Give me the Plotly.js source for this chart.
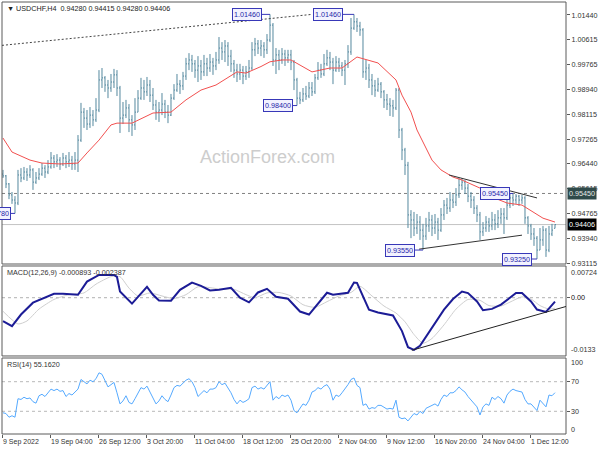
<!DOCTYPE html>
<html><head><meta charset="utf-8">
<script src="https://cdn.plot.ly/plotly-3.0.1.min.js"></script>
<style>html,body{margin:0;padding:0;background:#fff}#chart{width:600px;height:450px}</style>
</head><body><div id="chart"></div>
<script>
// USDCHF H4 price bars (one bar per plotted slot), left to right
const openP = [0.9610,0.9604,0.9577,0.9540,0.9523,0.9513,0.9607,0.9597,0.9617,0.9607,
0.9624,0.9583,0.9597,0.9610,0.9630,0.9617,0.9634,0.9664,0.9651,0.9657,
0.9644,0.9664,0.9651,0.9657,0.9644,0.9657,0.9724,0.9818,0.9798,0.9778,
0.9808,0.9792,0.9825,0.9926,0.9933,0.9909,0.9899,0.9919,0.9943,0.9899,
0.9798,0.9808,0.9832,0.9792,0.9775,0.9818,0.9865,0.9899,0.9886,0.9909,
0.9875,0.9842,0.9818,0.9825,0.9845,0.9818,0.9808,0.9865,0.9892,0.9912,
0.9906,0.9939,0.9980,0.9993,0.9980,0.9959,0.9973,0.9953,0.9980,0.9966,
0.9986,0.9973,0.9993,1.0033,1.0020,1.0040,1.0006,0.9980,0.9959,0.9946,
0.9959,0.9939,0.9953,0.9966,1.0027,1.0047,1.0033,1.0040,1.0027,1.0060,
1.0110,0.9993,1.0010,0.9993,1.0013,1.0000,1.0010,0.9986,0.9926,0.9865,
0.9859,0.9879,0.9872,0.9899,0.9886,0.9933,0.9959,0.9946,0.9980,1.0000,
0.9986,0.9959,0.9986,0.9973,0.9959,0.9980,1.0020,1.0100,1.0121,1.0107,
1.0094,0.9953,0.9966,0.9926,0.9906,0.9892,0.9912,0.9886,0.9859,0.9845,
0.9839,0.9832,0.9892,0.9758,0.9691,0.9640,0.9473,0.9456,0.9429,0.9449,
0.9422,0.9402,0.9436,0.9456,0.9429,0.9449,0.9422,0.9473,0.9506,0.9496,
0.9523,0.9516,0.9540,0.9573,0.9583,0.9563,0.9536,0.9523,0.9496,0.9473,
0.9416,0.9429,0.9449,0.9436,0.9456,0.9443,0.9463,0.9476,0.9463,0.9506,
0.9530,0.9523,0.9536,0.9523,0.9530,0.9463,0.9436,0.9409,0.9395,0.9355,
0.9389,0.9422,0.9355,0.9409,0.9428];
const highP = [0.9624,0.9607,0.9580,0.9550,0.9536,0.9624,0.9630,0.9634,0.9630,0.9640,
0.9630,0.9617,0.9630,0.9647,0.9640,0.9657,0.9684,0.9674,0.9677,0.9667,
0.9681,0.9674,0.9684,0.9671,0.9684,0.9741,0.9849,0.9832,0.9825,0.9835,
0.9825,0.9865,0.9959,0.9966,0.9939,0.9926,0.9946,0.9963,0.9959,0.9906,
0.9852,0.9859,0.9845,0.9808,0.9865,0.9892,0.9933,0.9926,0.9936,0.9926,
0.9899,0.9859,0.9852,0.9882,0.9859,0.9842,0.9879,0.9912,0.9946,0.9926,
0.9953,1.0000,1.0016,1.0010,0.9993,1.0006,0.9993,1.0010,1.0000,1.0013,
1.0000,1.0020,1.0070,1.0053,1.0060,1.0053,1.0027,0.9993,0.9980,0.9980,
0.9973,0.9973,0.9993,1.0053,1.0067,1.0060,1.0060,1.0053,1.0080,1.0146,
1.0117,1.0033,1.0027,1.0033,1.0027,1.0027,1.0027,0.9993,0.9933,0.9886,
0.9899,0.9906,0.9919,0.9919,0.9946,0.9986,0.9980,1.0013,1.0027,1.0020,
1.0000,1.0006,1.0000,0.9986,0.9993,1.0043,1.0134,1.0146,1.0134,1.0121,
1.0100,0.9993,0.9980,0.9946,0.9926,0.9933,0.9919,0.9892,0.9879,0.9865,
0.9859,0.9899,0.9899,0.9765,0.9698,0.9651,0.9489,0.9483,0.9476,0.9469,
0.9443,0.9463,0.9483,0.9473,0.9476,0.9463,0.9496,0.9523,0.9530,0.9550,
0.9543,0.9563,0.9597,0.9597,0.9590,0.9577,0.9550,0.9536,0.9506,0.9483,
0.9449,0.9469,0.9463,0.9483,0.9476,0.9489,0.9496,0.9496,0.9523,0.9543,
0.9545,0.9543,0.9540,0.9540,0.9536,0.9469,0.9443,0.9429,0.9402,0.9429,
0.9436,0.9429,0.9436,0.9443,0.94415];
const lowP = [0.9597,0.9563,0.9526,0.9510,0.9478,0.9506,0.9583,0.9590,0.9587,0.9597,
0.9557,0.9577,0.9590,0.9604,0.9597,0.9610,0.9628,0.9630,0.9634,0.9624,
0.9637,0.9630,0.9634,0.9624,0.9624,0.9617,0.9718,0.9765,0.9758,0.9765,
0.9771,0.9785,0.9818,0.9899,0.9886,0.9865,0.9886,0.9899,0.9872,0.9748,
0.9778,0.9798,0.9751,0.9738,0.9758,0.9818,0.9859,0.9859,0.9872,0.9852,
0.9825,0.9792,0.9785,0.9808,0.9798,0.9781,0.9805,0.9859,0.9886,0.9879,
0.9892,0.9926,0.9959,0.9953,0.9933,0.9919,0.9926,0.9939,0.9939,0.9953,
0.9943,0.9959,0.9980,0.9993,0.9986,0.9973,0.9953,0.9933,0.9919,0.9926,
0.9912,0.9926,0.9933,0.9959,1.0006,1.0013,1.0006,1.0000,1.0013,1.0053,
0.9973,0.9946,0.9959,0.9980,0.9973,0.9983,0.9959,0.9892,0.9840,0.9845,
0.9852,0.9859,0.9865,0.9872,0.9879,0.9926,0.9933,0.9939,0.9973,0.9959,
0.9912,0.9953,0.9953,0.9939,0.9909,0.9966,1.0010,1.0094,1.0087,1.0074,
0.9933,0.9926,0.9899,0.9875,0.9869,0.9886,0.9865,0.9832,0.9825,0.9805,
0.9802,0.9825,0.9731,0.9657,0.9607,0.9429,0.9395,0.9402,0.9409,0.9389,
0.9355,0.9389,0.9416,0.9402,0.9409,0.9389,0.9416,0.9456,0.9476,0.9483,
0.9496,0.9503,0.9530,0.9557,0.9543,0.9516,0.9496,0.9476,0.9449,0.9389,
0.9402,0.9416,0.9416,0.9422,0.9422,0.9429,0.9443,0.9409,0.9456,0.9496,
0.9503,0.9510,0.9503,0.9510,0.9443,0.9409,0.9389,0.9369,0.9325,0.9355,
0.9369,0.9332,0.9348,0.9402,0.9428];
const closeP = [0.9604,0.9577,0.9540,0.9523,0.9513,0.9607,0.9597,0.9617,0.9607,0.9624,
0.9583,0.9597,0.9610,0.9630,0.9617,0.9634,0.9664,0.9651,0.9657,0.9644,
0.9664,0.9651,0.9657,0.9644,0.9657,0.9724,0.9818,0.9798,0.9778,0.9808,
0.9792,0.9825,0.9926,0.9933,0.9909,0.9899,0.9919,0.9943,0.9899,0.9798,
0.9808,0.9832,0.9792,0.9775,0.9818,0.9865,0.9899,0.9886,0.9909,0.9875,
0.9842,0.9818,0.9825,0.9845,0.9818,0.9808,0.9865,0.9892,0.9912,0.9906,
0.9939,0.9980,0.9993,0.9980,0.9959,0.9973,0.9953,0.9980,0.9966,0.9986,
0.9973,0.9993,1.0033,1.0020,1.0040,1.0006,0.9980,0.9959,0.9946,0.9959,
0.9939,0.9953,0.9966,1.0027,1.0047,1.0033,1.0040,1.0027,1.0060,1.0110,
0.9993,1.0010,0.9993,1.0013,1.0000,1.0010,0.9986,0.9926,0.9865,0.9859,
0.9879,0.9872,0.9899,0.9886,0.9933,0.9959,0.9946,0.9980,1.0000,0.9986,
0.9959,0.9986,0.9973,0.9959,0.9980,1.0020,1.0100,1.0121,1.0107,1.0094,
0.9953,0.9966,0.9926,0.9906,0.9892,0.9912,0.9886,0.9859,0.9845,0.9839,
0.9832,0.9892,0.9758,0.9691,0.9640,0.9473,0.9456,0.9429,0.9449,0.9422,
0.9402,0.9436,0.9456,0.9429,0.9449,0.9422,0.9473,0.9506,0.9496,0.9523,
0.9516,0.9540,0.9573,0.9583,0.9563,0.9536,0.9523,0.9496,0.9473,0.9416,
0.9429,0.9449,0.9436,0.9456,0.9443,0.9463,0.9476,0.9463,0.9506,0.9530,
0.9523,0.9536,0.9523,0.9530,0.9463,0.9436,0.9409,0.9395,0.9355,0.9389,
0.9422,0.9355,0.9409,0.9422,0.94406];

// moving average (red)
const maBars = [0,3,9,13,19,25,28,32,36,38,43,47,50,56,61,66,71,78,81,86,89,93,96,103,109,113,118,125,131,133,136,138,141,143,146,150,153,159,163,168,173,177,180,184];
const maVals = [0.9731,0.9684,0.9657,0.9647,0.9644,0.9647,0.9681,0.9724,0.9775,0.9781,0.9781,0.9802,0.9815,0.9818,0.9859,0.9892,0.9909,0.9953,0.9949,0.9971,0.9987,0.9993,0.9993,0.9953,0.9966,0.9966,1.0003,0.9983,0.9926,0.9875,0.9818,0.9758,0.9698,0.9657,0.9624,0.9600,0.9590,0.9563,0.9533,0.9513,0.9506,0.9482,0.9462,0.9449];

// MACD(12,26,9)
const macdBars = [0,3,6,10,17,20,25,28,32,37,38,39,43,48,50,52,56,59,63,66,69,72,76,79,82,85,88,91,95,99,102,108,110,115,117,118,122,125,130,131,133,135,137,139,142,147,150,153,155,158,160,163,166,168,171,173,176,178,181,184];
const macdVals = [-0.00535,-0.00648,-0.00384,-0.00113,0.00090,0.00090,0.00068,0.00368,0.00519,0.00519,0.00474,0.00142,-0.00135,0.00248,0.00068,-0.00061,-0.00068,0.00181,0.00345,0.00271,0.00165,0.00181,0.00226,0.0,-0.00106,0.00120,0.00203,0.00023,-0.00023,-0.00316,-0.00384,0.00113,0.00068,0.00113,0.00345,0.00339,-0.00271,-0.00339,-0.00406,-0.00535,-0.00761,-0.01129,-0.01189,-0.01099,-0.00790,-0.00271,-0.00029,0.00142,0.00106,-0.00084,-0.00287,-0.00255,-0.00158,-0.00045,0.00106,0.00106,-0.00084,-0.00271,-0.00323,-0.000893];
const signalBars = [0,5,8,12,17,22,27,31,36,39,42,45,49,53,57,61,65,69,73,77,81,84,88,92,96,100,104,108,112,116,119,123,127,131,134,137,140,143,147,151,155,159,162,166,169,173,176,179,182,184];
const signalVals = [-0.0031,-0.0060,-0.0053,-0.0026,-0.0004,0.0007,0.0011,0.0031,0.0048,0.0048,0.0022,0.0004,0.0011,0.0004,-0.0002,0.0007,0.0025,0.0023,0.0019,0.0019,0.0007,0.0000,0.0011,0.0012,0.0004,-0.0016,-0.0022,-0.0009,0.0004,0.0012,0.0026,0.0004,-0.0019,-0.0035,-0.0055,-0.0084,-0.0104,-0.0093,-0.0062,-0.0026,-0.0004,-0.0006,-0.0018,-0.0019,-0.0010,0.0002,-0.0003,-0.0018,-0.0026,-0.002387];

// RSI(14), one value per bar
const rsiVals = [28,27,22,24,22,47,46,49,47,48,
43,41,51,53,50,55,60,58,60,57,
58,50,54,52,56,60,73,70,67,72,
70,74,82,80,72,63,66,69,55,40,
44,51,42,40,47,55,62,60,64,56,
48,40,44,51,46,43,52,62,65,64,
68,72,74,70,62,50,54,58,55,60,
60,62,70,66,68,62,55,46,40,45,
42,44,47,62,64,60,62,60,65,70,
45,50,47,52,50,52,45,31,28,34,
40,38,45,56,58,62,60,64,66,60,
45,52,50,55,60,66,73,75,65,62,
38,40,33,35,34,38,38,35,33,34,
33,45,22,20,21,17,22,27,25,30,
27,34,36,38,40,37,46,52,50,55,
55,58,63,59,56,50,45,40,36,25,
36,40,38,49,46,50,47,41,52,57,
60,58,57,56,46,40,40,36,31,45,
41,36,52,51,55.162];

// axis labels
const dateTickBars = [0,16,32,48,64,80,96,112,128,144,160,176];
const dateTickText = ['9 Sep 2022','19 Sep 04:00','26 Sep 12:00','3 Oct 20:00','11 Oct 04:00','18 Oct 12:00','25 Oct 20:00','2 Nov 04:00','9 Nov 12:00','16 Nov 20:00','24 Nov 04:00','1 Dec 12:00'];
const priceTicks = [1.0144,1.00615,0.99765,0.9894,0.98115,0.97265,0.9644,0.95615,0.94765,0.9394,0.93115];

// swing-point labels
const pivotBars = [4,89,98,117,140,170,178];
const pivotPrices = [0.9478,1.0146,0.9840,1.0146,0.9355,0.9545,0.9325];
const pivotGapPx = [4,8,4,11,8,3,5];

// drawn lines
const topTrendBars = [-0.33,103];   const topTrendPrices = [1.0042,1.0146];
const triUpperBars = [148.7,178];   const triUpperPrices = [0.9607,0.9530];
const triLowerBars = [138.7,173];   const triLowerPrices = [0.9358,0.9405];
const macdTrendBars = [136.3,187.67]; const macdTrendVals = [-0.0120,-0.0020];
const levelPrice = 0.9545;
const lastPrice = 0.94406;
const header = {sym:'USDCHF,H4', o:'0.94280', h:'0.94415', l:'0.94280', c:'0.94406'};

const idx = closeP.map((_, i) => i);
const BAR = '#55889f';
const FONT = 'Liberation Sans, Arial, sans-serif';

const traces = [
  {type:'ohlc', x:idx, open:openP, high:highP, low:lowP, close:closeP, xaxis:'x', yaxis:'y',
   increasing:{line:{color:BAR,width:1}}, decreasing:{line:{color:BAR,width:1}}, tickwidth:0.34, hoverinfo:'skip'},
  {type:'scatter', mode:'lines', x:maBars, y:maVals, xaxis:'x', yaxis:'y', line:{color:'#f2504f',width:1}, hoverinfo:'skip'},
  {type:'scatter', mode:'lines', x:signalBars, y:signalVals, xaxis:'x', yaxis:'y2', line:{color:'#cfcfcf',width:1,shape:'spline',smoothing:0.6}, hoverinfo:'skip'},
  {type:'scatter', mode:'lines', x:macdBars, y:macdVals, xaxis:'x', yaxis:'y2', line:{color:'#1c1c96',width:2}, hoverinfo:'skip'},
  {type:'scatter', mode:'lines', x:idx, y:rsiVals, xaxis:'x', yaxis:'y3', line:{color:'#55aaff',width:1}, hoverinfo:'skip'}
];

const D_MAIN = [0.3935,1], D_MACD = [0.1806,0.3889], D_RSI = [0,0.1759];
const FRAME = '#5a5a5a';
const shapes = [];
[D_MAIN, D_MACD, D_RSI].forEach(d => shapes.push({type:'rect', xref:'paper', yref:'paper', x0:0, x1:1, y0:d[0], y1:d[1], line:{color:FRAME,width:1}, layer:'above'}));
shapes.push({type:'line', xref:'paper', yref:'y', x0:0, x1:1, y0:levelPrice, y1:levelPrice, line:{color:'#808080',width:1,dash:'dot'}, layer:'below'});
shapes.push({type:'line', xref:'paper', yref:'y', x0:0, x1:1, y0:lastPrice, y1:lastPrice, line:{color:'#c4c4c4',width:1}, layer:'below'});
shapes.push({type:'line', xref:'x', yref:'y', x0:topTrendBars[0], x1:topTrendBars[1], y0:topTrendPrices[0], y1:topTrendPrices[1], line:{color:'#444',width:1,dash:'2px,2px'}});
shapes.push({type:'line', xref:'x', yref:'y', x0:triUpperBars[0], x1:triUpperBars[1], y0:triUpperPrices[0], y1:triUpperPrices[1], line:{color:'#333',width:1}});
shapes.push({type:'line', xref:'x', yref:'y', x0:triLowerBars[0], x1:triLowerBars[1], y0:triLowerPrices[0], y1:triLowerPrices[1], line:{color:'#333',width:1}});
shapes.push({type:'line', xref:'paper', yref:'y2', x0:0, x1:1, y0:0, y1:0, line:{color:'#b0b0b0',width:1,dash:'dot'}, layer:'below'});
shapes.push({type:'line', xref:'x', yref:'y2', x0:macdTrendBars[0], x1:macdTrendBars[1], y0:macdTrendVals[0], y1:macdTrendVals[1], line:{color:'#222',width:1}});
[70,30].forEach(v => shapes.push({type:'line', xref:'paper', yref:'y3', x0:0, x1:1, y0:v, y1:v, line:{color:'#b8b8b8',width:1,dash:'dot'}, layer:'below'}));

const annotations = [];
pivotBars.forEach((b, k) => {
  const x0 = b - pivotGapPx[k] / 3;
  shapes.push({type:'line', xref:'x', yref:'y', x0:x0, x1:b, y0:pivotPrices[k], y1:pivotPrices[k], line:{color:'#3838b8',width:1}});
  annotations.push({xref:'x', yref:'y', x:x0, y:pivotPrices[k], xanchor:'right', yanchor:'middle', showarrow:false,
    text:pivotPrices[k].toFixed(5), font:{family:FONT,size:7.2,color:'#2424a8'},
    bgcolor:'#f2f2ff', bordercolor:'#3838b8', borderwidth:1, borderpad:1, height:9});
});
// date labels, left-aligned at their tick like the trading terminal
dateTickBars.forEach((b, k) => annotations.push({xref:'x', yref:'paper', x:b, y:0, xanchor:'left', yanchor:'top', xshift:-2, yshift:-2,
  showarrow:false, text:dateTickText[k], font:{family:FONT,size:7,color:'#333'}}));
const side = (text, yref, y, yshift, extra) => Object.assign({xref:'paper', yref:yref, x:1, y:y, xanchor:'left', yanchor:'middle', xshift:3, yshift:yshift||0, showarrow:false, text:text, font:{family:FONT,size:7.2,color:'#333'}}, extra||{});
annotations.push(side('0.00724','paper',D_MACD[1],-7));
annotations.push(side('0.00','y2',0,0,{font:{family:FONT,size:7.2,color:'#111'}}));
annotations.push(side('-0.0133','paper',D_MACD[0],6));
annotations.push(side('100','paper',D_RSI[1],-4));
annotations.push(side('70','y3',70,0));
annotations.push(side('30','y3',30,0));
annotations.push(side('0','paper',D_RSI[0],5));
annotations.push(side(levelPrice.toFixed(5),'y',levelPrice,0,{xshift:1,bgcolor:'#2f4a4a',font:{family:FONT,size:7.2,color:'#e8e8e8'},borderpad:1}));
annotations.push(side(lastPrice.toFixed(5),'y',lastPrice,0,{xshift:1,bgcolor:'#000',font:{family:FONT,size:7.2,color:'#fff'},borderpad:1}));
annotations.push({xref:'paper', yref:'paper', x:0, y:0.986, xanchor:'left', yanchor:'middle', xshift:3, showarrow:false,
  text:'▼ ' + header.sym + '  ' + [header.o, header.h, header.l, header.c].join(' '), font:{family:FONT,size:7.2,color:'#222'}});
annotations.push({xref:'paper', yref:'paper', x:0, y:0.3727, xanchor:'left', yanchor:'middle', xshift:3, showarrow:false,
  text:'MACD(12,26,9) ' + macdVals[macdVals.length-1].toFixed(6) + ' ' + signalVals[signalVals.length-1].toFixed(6), font:{family:FONT,size:7.2,color:'#333'}});
annotations.push({xref:'paper', yref:'paper', x:0, y:0.162, xanchor:'left', yanchor:'middle', xshift:3, showarrow:false,
  text:'RSI(14) ' + rsiVals[rsiVals.length-1].toFixed(4), font:{family:FONT,size:7.2,color:'#333'}});
annotations.push({xref:'paper', yref:'paper', x:0.4716, y:0.641, xanchor:'center', yanchor:'middle', showarrow:false,
  text:'ActionForex.com', font:{family:FONT,size:18,color:'#cdcdcd'}});

const yBase = {anchor:'x', side:'right', showgrid:false, zeroline:false, showline:false, ticks:'outside', ticklen:3, tickcolor:FRAME, fixedrange:true};
const layout = {
  width:600, height:450, margin:{l:2,r:34,t:2,b:16}, paper_bgcolor:'#fff', plot_bgcolor:'#fff', showlegend:false,
  font:{family:FONT, size:7.2, color:'#333'}, hovermode:false,
  xaxis:{domain:[0,1], anchor:'y3', range:[-0.33,187.67], tickvals:dateTickBars, showticklabels:false,
    ticks:'outside', ticklen:3, tickcolor:FRAME,
    showgrid:false, zeroline:false, showline:false, rangeslider:{visible:false}, fixedrange:true},
  yaxis:Object.assign({}, yBase, {domain:D_MAIN, range:[0.93082,1.01876], tickvals:priceTicks, ticktext:priceTicks.map(v => v.toFixed(5)), tickfont:{size:7.2,color:'#333'}}),
  yaxis2:Object.assign({}, yBase, {domain:D_MACD, range:[-0.0133,0.00724], tickvals:[0], showticklabels:false}),
  yaxis3:Object.assign({}, yBase, {domain:D_RSI, range:[-0.67,102], tickvals:[70,30], showticklabels:false}),
  shapes:shapes, annotations:annotations
};
Plotly.newPlot('chart', traces, layout, {staticPlot:true, displayModeBar:false});
</script></body></html>
